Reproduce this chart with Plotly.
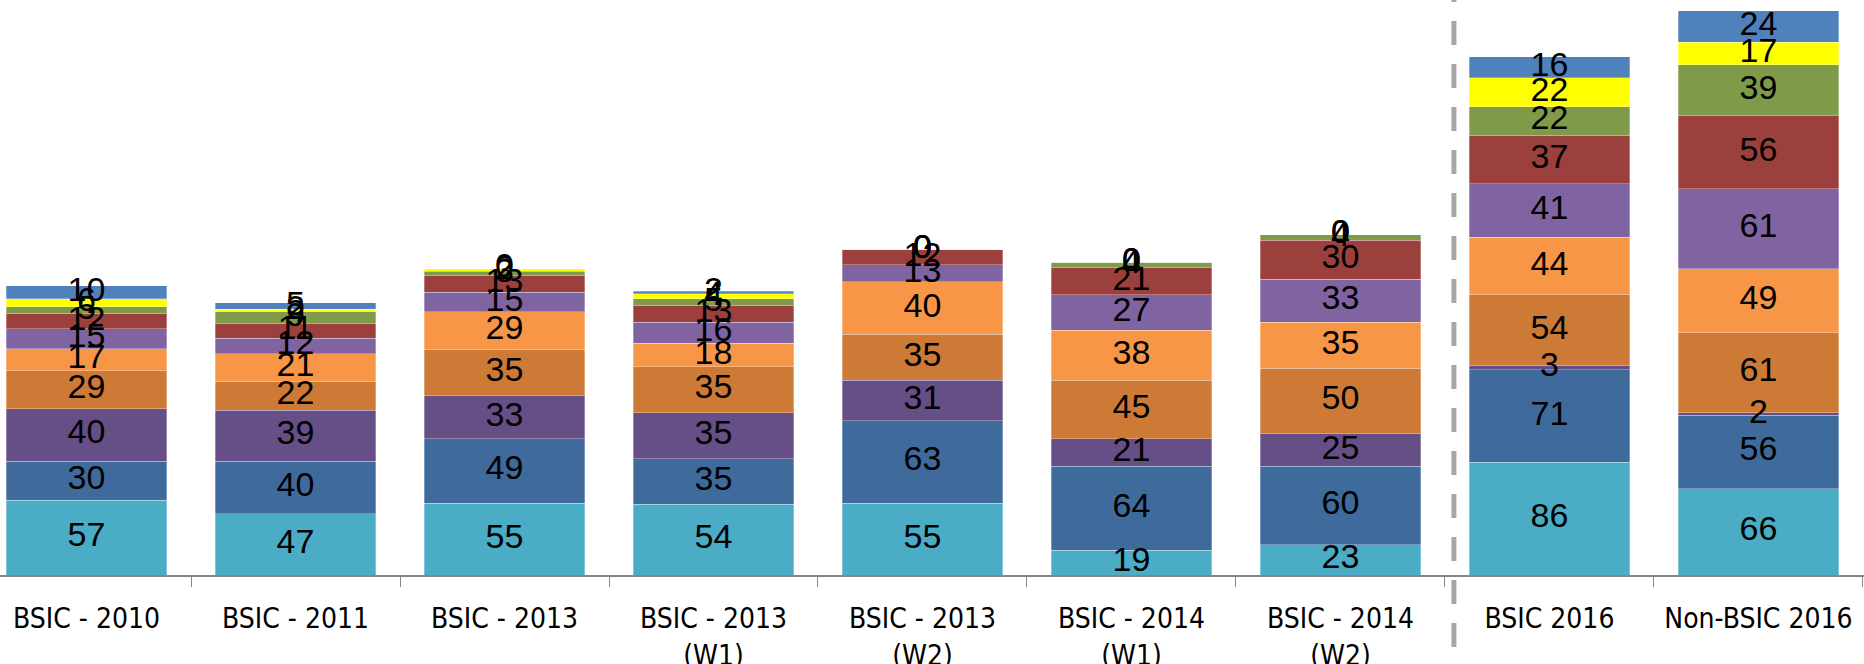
import numpy as np
import plotly.graph_objects as go

categories = ["BSIC - 2010", "BSIC - 2011", "BSIC - 2013", "BSIC - 2013<br>(W1)", "BSIC - 2013<br>(W2)",
              "BSIC - 2014<br>(W1)", "BSIC - 2014<br>(W2)", "BSIC 2016", "Non-BSIC 2016"]

# series listed bottom -> top of the stack
s_teal = [57, 47, 55, 54, 55, 19, 23, 86, 66]
s_darkblue = [30, 40, 49, 35, 63, 64, 60, 71, 56]
s_darkpurple = [40, 39, 33, 35, 31, 21, 25, 3, 2]
s_brown = [29, 22, 35, 35, 35, 45, 50, 54, 61]
s_orange = [17, 21, 29, 18, 40, 38, 35, 44, 49]
s_purple = [15, 12, 15, 16, 13, 27, 33, 41, 61]
s_red = [12, 11, 13, 13, 12, 21, 30, 37, 56]
s_olive = [5, 9, 3, 5, 0, 4, 4, 22, 39]
s_yellow = [6, 2, 2, 4, 0, 0, 0, 22, 17]
s_blue = [10, 5, 0, 2, 0, 0, 0, 16, 24]

series = [
    ("Series 1", s_teal, "#4BACC6"),
    ("Series 2", s_darkblue, "#3E6A9C"),
    ("Series 3", s_darkpurple, "#664E87"),
    ("Series 4", s_brown, "#CD7A36"),
    ("Series 5", s_orange, "#F79646"),
    ("Series 6", s_purple, "#8064A2"),
    ("Series 7", s_red, "#9C403D"),
    ("Series 8", s_olive, "#7F9A48"),
    ("Series 9", s_yellow, "#FFFF00"),
    ("Series 10", s_blue, "#4F81BD"),
]

FONT = "Liberation Sans Narrow, DejaVu Sans Condensed, Liberation Sans, Arial, sans-serif"
LABEL_FONT = "Liberation Sans, Arial, sans-serif"

fig = go.Figure()
base = np.zeros(len(categories))
label_x, label_y, label_t = [], [], []
for name, vals, color in series:
    vals = np.array(vals, dtype=float)
    fig.add_trace(go.Bar(x=categories, y=vals, name=name, marker=dict(color=color, line=dict(width=0.6, color="rgba(255,255,255,0.5)"))))
    label_x += categories
    label_y += list(base + vals / 2)
    label_t += [str(int(v)) for v in vals]
    base = base + vals

# data labels centred in each segment
fig.add_trace(go.Scatter(x=label_x, y=label_y, text=label_t, mode="text", showlegend=False,
                         textfont=dict(size=34, color="black", family=LABEL_FONT), hoverinfo="skip"))

fig.update_layout(
    barmode="stack", bargap=0.23, showlegend=False,
    width=1864, height=664, plot_bgcolor="white", paper_bgcolor="white",
    margin=dict(l=0, r=0, t=0, b=89),
    font=dict(family=FONT, size=28, color="black"),
    shapes=[dict(type="line", xref="paper", yref="paper", x0=0.78, x1=0.78, y0=-0.2, y1=1.0,
                 line=dict(color="#A6A6A6", width=5, dash="24px,19px"))],
)
fig.update_xaxes(range=[-0.414, 8.505], showline=True, linecolor="#868686", linewidth=1.5,
                 ticks="outside", tickson="boundaries", ticklen=10, tickcolor="#868686",
                 tickangle=0, automargin=False, ticklabelstandoff=18,
                 tickfont=dict(size=28, family=FONT), showgrid=False)
fig.update_yaxes(range=[0, 439.4], visible=False, showgrid=False, automargin=False)

fig.write_html("out.html", config={"displayModeBar": False},
               post_script="document.body.style.margin='0';")
